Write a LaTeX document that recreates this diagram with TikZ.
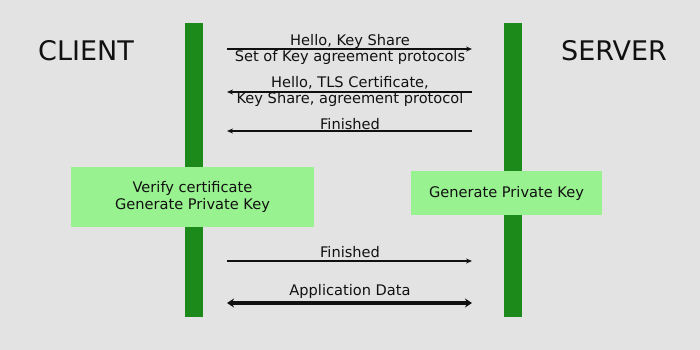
\documentclass[tikz,border=0pt]{standalone}
\usepackage{fontspec}
\setmainfont{DejaVu Sans}
\usetikzlibrary{arrows.meta}
\definecolor{bg}{HTML}{E3E3E3}
\definecolor{bar}{HTML}{1B8A1B}
\definecolor{boxg}{HTML}{98F28F}
\definecolor{ink}{HTML}{111111}
\begin{document}
\begin{tikzpicture}[x=1pt,y=-1pt,
  lifeline/.style={fill=bar,draw=none},
  msg/.style={draw=ink,line width=1.4pt,-{Stealth[length=6pt,width=5pt]}},
  lbl/.style={font=\fontsize{14.6}{16}\selectfont,text=ink,inner sep=0pt,align=center},
  actor/.style={font=\fontsize{27}{30}\selectfont,text=ink,inner sep=0pt},
  action/.style={fill=boxg,draw=none,font=\fontsize{14.6}{17}\selectfont,text=ink,align=center,inner sep=0pt}]
\fill[bg] (0,0) rectangle (700,350);
\useasboundingbox (0,0) rectangle (700,350);
\node[lifeline,minimum width=18pt,minimum height=294pt,inner sep=0pt] (cbar) at (194,170) {};
\node[lifeline,minimum width=18pt,minimum height=294pt,inner sep=0pt] (sbar) at (513,170) {};
\node[actor] (client) at (86,51) {CLIENT};
\node[actor] (server) at (614,51) {SERVER};
\node[action,minimum width=243pt,minimum height=60pt] (cbox) at (192.5,197) {Verify certificate\\Generate Private Key};
\node[action,minimum width=191pt,minimum height=44pt] (sbox) at (506.5,193) {Generate Private Key};
% endpoints
\coordinate (c1) at (227,49); \coordinate (s1) at (472,49);
\coordinate (c2) at (227,92); \coordinate (s2) at (472,92);
\coordinate (c3) at (227,131); \coordinate (s3) at (472,131);
\coordinate (c4) at (227,261); \coordinate (s4) at (472,261);
\coordinate (c5) at (227,303); \coordinate (s5) at (472,303);
\draw[msg] (c1) -- (s1);
\node[lbl] (l1a) at (350,41) {Hello, Key Share};
\node[lbl] (l1b) at (350,57) {Set of Key agreement protocols};
\draw[msg] (s2) -- (c2);
\node[lbl] (l2a) at (350,83) {Hello, TLS Certificate,};
\node[lbl] (l2b) at (350,99) {Key Share, agreement protocol};
\draw[msg] (s3) -- (c3);
\node[lbl] (l3) at (350,124) {Finished};
\draw[msg] (c4) -- (s4);
\node[lbl] (l4) at (350,252) {Finished};
\draw[draw=ink,line width=3.5pt,{Stealth[length=7pt,width=9pt]}-{Stealth[length=7pt,width=9pt]}] (c5) -- (s5);
\node[lbl] (l5) at (350,291) {Application Data};
\end{tikzpicture}
\end{document}
